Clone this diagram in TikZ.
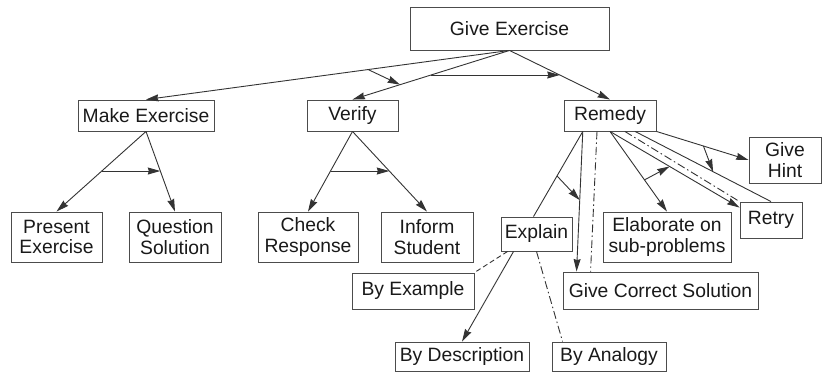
\documentclass[tikz,border=0pt]{standalone}
\usepackage{fontspec}
\setmainfont{Liberation Sans}
\usetikzlibrary{arrows.meta,calc}
\begin{document}
\begin{tikzpicture}[x=1pt,y=-1pt,
  box/.style={draw=black!70,line width=0.9pt,inner sep=0pt,align=center,
    font=\fontsize{19.3}{20.5}\selectfont,text=black!90},
  conn/.style={draw=black!80,line width=0.9pt},
  arr/.style={conn,-{Stealth[length=12.5pt,width=7pt,inset=1pt]}},
  dashdot/.style={conn,dash pattern=on 8pt off 3pt on 1.5pt off 3pt},
  dashline/.style={conn,dash pattern=on 5pt off 3pt}]
\useasboundingbox (0,0) rectangle (822,372);
% boxes
\node[box,minimum width=199pt,minimum height=43pt] (give) at (509.5,28.5) {Give Exercise};
\node[box,minimum width=136pt,minimum height=31pt] (make) at (146,115.5) {Make Exercise};
\node[box,minimum width=91pt,minimum height=31pt] (verify) at (352.5,115.5) {Verify};
\node[box,minimum width=92pt,minimum height=31pt] (remedy) at (610,115.5) {Remedy};
\node[box,minimum width=91pt,minimum height=50pt] (present) at (56.5,237) {Present\\Exercise};
\node[box,minimum width=92pt,minimum height=50pt] (question) at (175,237) {Question\\Solution};
\node[box,minimum width=100pt,minimum height=50pt] (check) at (308,237) {Check\\Response};
\node[box,minimum width=92pt,minimum height=50pt] (inform) at (427,237) {Inform\\Student};
\node[box,minimum width=71pt,minimum height=34pt] (explain) at (536.5,234) {Explain};
\node[box,minimum width=128pt,minimum height=50pt] (elaborate) at (667,237) {Elaborate on\\sub-problems};
\node[box,minimum width=62pt,minimum height=36pt] (retry) at (771,220) {Retry};
\node[box,minimum width=72pt,minimum height=46pt] (hint) at (785,160) {Give\\Hint};
\node[box,minimum width=122pt,minimum height=36pt] (example) at (413,291) {By Example};
\node[box,minimum width=195pt,minimum height=37pt] (gcs) at (660.5,290.5) {Give Correct Solution};
\node[box,minimum width=134pt,minimum height=29pt] (description) at (462,356.5) {By Description};
\node[box,minimum width=114pt,minimum height=29pt] (analogy) at (609,356.5) {By Analogy};
% Give Exercise
\draw[arr] (give.south) -- coordinate[pos=0.389] (g1) (make.north);
\draw[arr] (give.south) -- coordinate[pos=0.697] (g2) coordinate[pos=0.5] (g3) (verify.north);
\draw[arr] (give.south) -- coordinate[pos=0.5] (g4) (remedy.north);
\draw[arr] (g1) -- (g2);
\draw[arr] (g3) -- (g4);
% Make Exercise
\draw[arr] (make.south) -- coordinate[pos=0.494] (m1) (present.north);
\draw[arr] (make.south) -- coordinate[pos=0.494] (m2) (question.north);
\draw[arr] (m1) -- (m2);
% Verify
\draw[arr] (verify.south) -- coordinate[pos=0.494] (v1) (check.north);
\draw[arr] (verify.south) -- coordinate[pos=0.494] (v2) (inform.north);
\draw[arr] (v1) -- (v2);
% Remedy
\coordinate (r1) at ($(remedy.south west)!0.207!(remedy.south east)$);
\coordinate (r2) at ($(remedy.south west)!0.36!(remedy.south east)$);
\coordinate (r3) at ($(remedy.south west)!0.5!(remedy.south east)$);
\coordinate (r4) at ($(remedy.south west)!0.66!(remedy.south east)$);
\coordinate (r5) at ($(remedy.south west)!0.77!(remedy.south east)$);
\draw[conn] (r1) -- coordinate[pos=0.523] (e1) ($(explain.north)+(-3,0)$);
\draw[arr] (r1) -- coordinate[pos=0.49] (e2) ($(gcs.north west)+(14,0)$);
\draw[arr] (e1) -- (e2);
\draw[dashdot] (r2) -- ($(gcs.north west)+(28,0)$);
\draw[arr] (r3) -- coordinate[pos=0.605] (s1) (elaborate.north);
\draw[arr] (r3) -- coordinate[pos=0.46] (s2) ($(retry.north west)+(0,6)$);
\draw[arr] (s1) -- (s2);
\draw[dashdot] (r4) -- (retry.north west);
\draw[conn] (r5) -- coordinate[pos=0.574] (h2) (retry.north);
\draw[arr] (remedy.south east) -- coordinate[pos=0.51] (h1) (hint.west);
\draw[arr] (h1) -- (h2);
% Explain
\draw[dashline] ($(explain.south west)+(7,0)$) -- (example.north east);
\draw[arr] ($(explain.south west)+(13,0)$) -- (description.north);
\draw[dashdot] (explain.south) -- ($(analogy.north west)+(11,0)$);
\end{tikzpicture}
\end{document}
